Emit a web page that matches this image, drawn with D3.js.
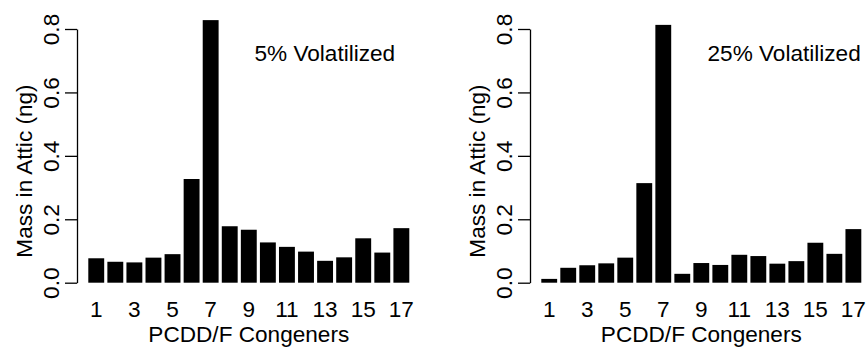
<!DOCTYPE html>
<html>
<head>
<meta charset="utf-8">
<script src="https://cdn.jsdelivr.net/npm/d3@7"></script>
<style>
  html, body { margin: 0; padding: 0; background: #fff; }
  svg { display: block; }
  text { font-family: "Liberation Sans", Arial, Helvetica, sans-serif; fill: #000; }
</style>
</head>
<body>
<svg id="chart" width="866" height="347"></svg>
<script>
const congeners = [1,2,3,4,5,6,7,8,9,10,11,12,13,14,15,16,17];
const xTickLabels = [1,3,5,7,9,11,13,15,17];
const yTicks = [0, 0.2, 0.4, 0.6, 0.8];
const mass5 = [0.077,0.066,0.064,0.079,0.090,0.327,0.828,0.178,0.167,0.127,0.113,0.098,0.069,0.080,0.140,0.095,0.172];
const mass25 = [0.012,0.047,0.055,0.061,0.079,0.314,0.813,0.028,0.062,0.056,0.088,0.084,0.060,0.068,0.126,0.091,0.169];
const titles = ["5% Volatilized", "25% Volatilized"];
const xLabel = "PCDD/F Congeners";
const yLabel = "Mass in Attic (ng)";

const svg = d3.select("#chart");
const FS = 22.6;

function panel(dx, values, title, barRight) {
  const g = svg.append("g").attr("transform", `translate(${dx},0)`);
  const x = d3.scaleBand().domain(congeners).range([88.3, barRight])
    .paddingInner(0.2/1.2).paddingOuter(0);
  const y = d3.scaleLinear().domain([0, 0.8]).range([282.7, 29]);

  g.selectAll("rect.bar").data(values).join("rect")
    .attr("class", "bar")
    .attr("x", (d, i) => x(congeners[i]))
    .attr("width", x.bandwidth())
    .attr("y", d => y(d))
    .attr("height", d => y(0) - y(d))
    .attr("fill", "#000");

  // y axis
  const axisX = 77;
  const ya = g.append("g").attr("transform", `translate(${axisX},0)`)
    .call(d3.axisLeft(y).tickValues(yTicks).tickSize(12).tickSizeOuter(0).tickFormat(d3.format(".1f")));
  ya.select(".domain").attr("stroke", "#000").attr("stroke-width", 1.3);
  ya.selectAll(".tick line").attr("stroke", "#000").attr("stroke-width", 1.3);
  ya.selectAll(".tick text")
    .attr("x", 0).attr("y", 0).attr("dy", 0)
    .attr("transform", `translate(${58.6 - axisX},0) rotate(-90)`)
    .attr("text-anchor", "middle")
    .style("font-size", FS + "px")
    .style("font-family", '"Liberation Sans", Arial, Helvetica, sans-serif')
    .attr("fill", "#000");

  // x tick labels (no axis line)
  g.selectAll("text.xt").data(xTickLabels).join("text")
    .attr("class", "xt")
    .attr("x", d => x(d) + x.bandwidth()/2)
    .attr("y", 316.7)
    .attr("text-anchor", "middle")
    .style("font-size", FS + "px")
    .text(d => d);

  g.append("text")
    .attr("x", (88.3 + barRight) / 2)
    .attr("y", 342)
    .attr("text-anchor", "middle")
    .style("font-size", FS + "px")
    .text(xLabel);

  g.append("text")
    .attr("transform", `translate(31.7,171) rotate(-90)`)
    .attr("text-anchor", "middle")
    .style("font-size", FS + "px")
    .text(yLabel);

  g.append("text")
    .attr("x", 254.5)
    .attr("y", 60.7)
    .style("font-size", FS + "px")
    .text(title);
}

panel(0, mass5, titles[0], 409.3);
panel(453, mass25, titles[1], 408.3);
</script>
</body>
</html>
